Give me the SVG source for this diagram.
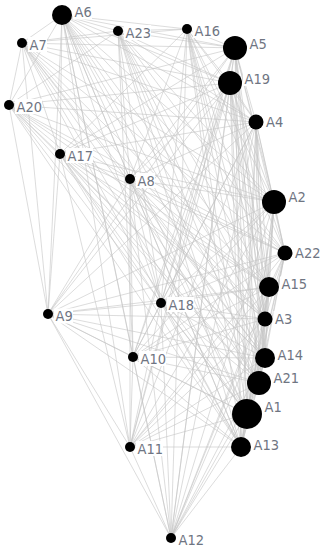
<svg xmlns="http://www.w3.org/2000/svg" width="321" height="550" viewBox="0 0 321 550">
<style>
.e line{stroke:#c4c4c4;stroke-width:0.6;fill:none}
.n{fill:#000}
.b{fill:#fff}
.l{font-family:"DejaVu Sans Condensed","DejaVu Sans",sans-serif;font-stretch:condensed;font-size:14.5px;fill:#6f7582}
</style>
<rect width="321" height="550" fill="#fff"/>
<g id="edges" class="e">
<line x1="62" y1="15" x2="235" y2="48"/><line x1="62" y1="15" x2="230" y2="83"/><line x1="62" y1="15" x2="256" y2="122"/><line x1="62" y1="15" x2="274" y2="202"/><line x1="62" y1="15" x2="285" y2="253"/><line x1="62" y1="15" x2="269" y2="287"/><line x1="62" y1="15" x2="265" y2="319"/><line x1="62" y1="15" x2="265" y2="358"/><line x1="62" y1="15" x2="259" y2="383"/><line x1="62" y1="15" x2="247" y2="414"/><line x1="62" y1="15" x2="241" y2="447"/>
<line x1="235" y1="48" x2="230" y2="83"/><line x1="235" y1="48" x2="256" y2="122"/><line x1="235" y1="48" x2="274" y2="202"/><line x1="235" y1="48" x2="285" y2="253"/><line x1="235" y1="48" x2="269" y2="287"/><line x1="235" y1="48" x2="265" y2="319"/><line x1="235" y1="48" x2="265" y2="358"/><line x1="235" y1="48" x2="259" y2="383"/><line x1="235" y1="48" x2="247" y2="414"/><line x1="235" y1="48" x2="241" y2="447"/>
<line x1="230" y1="83" x2="256" y2="122"/><line x1="230" y1="83" x2="274" y2="202"/><line x1="230" y1="83" x2="285" y2="253"/><line x1="230" y1="83" x2="269" y2="287"/><line x1="230" y1="83" x2="265" y2="319"/><line x1="230" y1="83" x2="265" y2="358"/><line x1="230" y1="83" x2="259" y2="383"/><line x1="230" y1="83" x2="247" y2="414"/><line x1="230" y1="83" x2="241" y2="447"/>
<line x1="256" y1="122" x2="274" y2="202"/><line x1="256" y1="122" x2="285" y2="253"/><line x1="256" y1="122" x2="269" y2="287"/><line x1="256" y1="122" x2="265" y2="319"/><line x1="256" y1="122" x2="265" y2="358"/><line x1="256" y1="122" x2="259" y2="383"/><line x1="256" y1="122" x2="247" y2="414"/><line x1="256" y1="122" x2="241" y2="447"/>
<line x1="274" y1="202" x2="285" y2="253"/><line x1="274" y1="202" x2="269" y2="287"/><line x1="274" y1="202" x2="265" y2="319"/><line x1="274" y1="202" x2="265" y2="358"/><line x1="274" y1="202" x2="259" y2="383"/><line x1="274" y1="202" x2="247" y2="414"/><line x1="274" y1="202" x2="241" y2="447"/>
<line x1="285" y1="253" x2="269" y2="287"/><line x1="285" y1="253" x2="265" y2="319"/><line x1="285" y1="253" x2="265" y2="358"/><line x1="285" y1="253" x2="259" y2="383"/><line x1="285" y1="253" x2="247" y2="414"/><line x1="285" y1="253" x2="241" y2="447"/>
<line x1="269" y1="287" x2="265" y2="319"/><line x1="269" y1="287" x2="265" y2="358"/><line x1="269" y1="287" x2="259" y2="383"/><line x1="269" y1="287" x2="247" y2="414"/><line x1="269" y1="287" x2="241" y2="447"/>
<line x1="265" y1="319" x2="265" y2="358"/><line x1="265" y1="319" x2="259" y2="383"/><line x1="265" y1="319" x2="247" y2="414"/><line x1="265" y1="319" x2="241" y2="447"/>
<line x1="265" y1="358" x2="259" y2="383"/><line x1="265" y1="358" x2="247" y2="414"/><line x1="265" y1="358" x2="241" y2="447"/>
<line x1="259" y1="383" x2="247" y2="414"/><line x1="259" y1="383" x2="241" y2="447"/>
<line x1="247" y1="414" x2="241" y2="447"/>
<line x1="22" y1="43" x2="62" y2="15"/><line x1="22" y1="43" x2="235" y2="48"/><line x1="22" y1="43" x2="230" y2="83"/><line x1="22" y1="43" x2="256" y2="122"/><line x1="22" y1="43" x2="274" y2="202"/><line x1="22" y1="43" x2="285" y2="253"/><line x1="22" y1="43" x2="269" y2="287"/><line x1="22" y1="43" x2="265" y2="319"/><line x1="22" y1="43" x2="265" y2="358"/><line x1="22" y1="43" x2="259" y2="383"/><line x1="22" y1="43" x2="247" y2="414"/><line x1="22" y1="43" x2="241" y2="447"/>
<line x1="9" y1="105" x2="62" y2="15"/><line x1="9" y1="105" x2="235" y2="48"/><line x1="9" y1="105" x2="230" y2="83"/><line x1="9" y1="105" x2="256" y2="122"/><line x1="9" y1="105" x2="274" y2="202"/><line x1="9" y1="105" x2="285" y2="253"/><line x1="9" y1="105" x2="269" y2="287"/><line x1="9" y1="105" x2="265" y2="319"/><line x1="9" y1="105" x2="265" y2="358"/><line x1="9" y1="105" x2="259" y2="383"/><line x1="9" y1="105" x2="247" y2="414"/><line x1="9" y1="105" x2="241" y2="447"/>
<line x1="118" y1="31" x2="62" y2="15"/><line x1="118" y1="31" x2="235" y2="48"/><line x1="118" y1="31" x2="230" y2="83"/><line x1="118" y1="31" x2="256" y2="122"/><line x1="118" y1="31" x2="274" y2="202"/><line x1="118" y1="31" x2="285" y2="253"/><line x1="118" y1="31" x2="269" y2="287"/><line x1="118" y1="31" x2="265" y2="319"/><line x1="118" y1="31" x2="265" y2="358"/><line x1="118" y1="31" x2="259" y2="383"/><line x1="118" y1="31" x2="247" y2="414"/><line x1="118" y1="31" x2="241" y2="447"/>
<line x1="187" y1="29" x2="62" y2="15"/><line x1="187" y1="29" x2="235" y2="48"/><line x1="187" y1="29" x2="230" y2="83"/><line x1="187" y1="29" x2="256" y2="122"/><line x1="187" y1="29" x2="274" y2="202"/><line x1="187" y1="29" x2="285" y2="253"/><line x1="187" y1="29" x2="269" y2="287"/><line x1="187" y1="29" x2="265" y2="319"/><line x1="187" y1="29" x2="265" y2="358"/><line x1="187" y1="29" x2="259" y2="383"/><line x1="187" y1="29" x2="247" y2="414"/><line x1="187" y1="29" x2="241" y2="447"/>
<line x1="60" y1="154" x2="62" y2="15"/><line x1="60" y1="154" x2="235" y2="48"/><line x1="60" y1="154" x2="230" y2="83"/><line x1="60" y1="154" x2="256" y2="122"/><line x1="60" y1="154" x2="274" y2="202"/><line x1="60" y1="154" x2="285" y2="253"/><line x1="60" y1="154" x2="269" y2="287"/><line x1="60" y1="154" x2="265" y2="319"/><line x1="60" y1="154" x2="265" y2="358"/><line x1="60" y1="154" x2="259" y2="383"/><line x1="60" y1="154" x2="247" y2="414"/><line x1="60" y1="154" x2="241" y2="447"/>
<line x1="130" y1="179" x2="62" y2="15"/><line x1="130" y1="179" x2="235" y2="48"/><line x1="130" y1="179" x2="230" y2="83"/><line x1="130" y1="179" x2="256" y2="122"/><line x1="130" y1="179" x2="274" y2="202"/><line x1="130" y1="179" x2="285" y2="253"/><line x1="130" y1="179" x2="269" y2="287"/><line x1="130" y1="179" x2="265" y2="319"/><line x1="130" y1="179" x2="265" y2="358"/><line x1="130" y1="179" x2="259" y2="383"/><line x1="130" y1="179" x2="247" y2="414"/><line x1="130" y1="179" x2="241" y2="447"/>
<line x1="161" y1="303" x2="62" y2="15"/><line x1="161" y1="303" x2="235" y2="48"/><line x1="161" y1="303" x2="230" y2="83"/><line x1="161" y1="303" x2="256" y2="122"/><line x1="161" y1="303" x2="274" y2="202"/><line x1="161" y1="303" x2="285" y2="253"/><line x1="161" y1="303" x2="269" y2="287"/><line x1="161" y1="303" x2="265" y2="319"/><line x1="161" y1="303" x2="265" y2="358"/><line x1="161" y1="303" x2="259" y2="383"/><line x1="161" y1="303" x2="247" y2="414"/><line x1="161" y1="303" x2="241" y2="447"/>
<line x1="48" y1="314" x2="62" y2="15"/><line x1="48" y1="314" x2="235" y2="48"/><line x1="48" y1="314" x2="230" y2="83"/><line x1="48" y1="314" x2="256" y2="122"/><line x1="48" y1="314" x2="274" y2="202"/><line x1="48" y1="314" x2="285" y2="253"/><line x1="48" y1="314" x2="269" y2="287"/><line x1="48" y1="314" x2="265" y2="319"/><line x1="48" y1="314" x2="265" y2="358"/><line x1="48" y1="314" x2="259" y2="383"/><line x1="48" y1="314" x2="247" y2="414"/><line x1="48" y1="314" x2="241" y2="447"/>
<line x1="133" y1="357" x2="62" y2="15"/><line x1="133" y1="357" x2="235" y2="48"/><line x1="133" y1="357" x2="230" y2="83"/><line x1="133" y1="357" x2="256" y2="122"/><line x1="133" y1="357" x2="274" y2="202"/><line x1="133" y1="357" x2="285" y2="253"/><line x1="133" y1="357" x2="269" y2="287"/><line x1="133" y1="357" x2="265" y2="319"/><line x1="133" y1="357" x2="265" y2="358"/><line x1="133" y1="357" x2="259" y2="383"/><line x1="133" y1="357" x2="247" y2="414"/><line x1="133" y1="357" x2="241" y2="447"/>
<line x1="130" y1="447" x2="62" y2="15"/><line x1="130" y1="447" x2="235" y2="48"/><line x1="130" y1="447" x2="230" y2="83"/><line x1="130" y1="447" x2="256" y2="122"/><line x1="130" y1="447" x2="274" y2="202"/><line x1="130" y1="447" x2="285" y2="253"/><line x1="130" y1="447" x2="269" y2="287"/><line x1="130" y1="447" x2="265" y2="319"/><line x1="130" y1="447" x2="265" y2="358"/><line x1="130" y1="447" x2="259" y2="383"/><line x1="130" y1="447" x2="247" y2="414"/><line x1="130" y1="447" x2="241" y2="447"/>
<line x1="171" y1="538" x2="62" y2="15"/><line x1="171" y1="538" x2="235" y2="48"/><line x1="171" y1="538" x2="230" y2="83"/><line x1="171" y1="538" x2="256" y2="122"/><line x1="171" y1="538" x2="274" y2="202"/><line x1="171" y1="538" x2="285" y2="253"/><line x1="171" y1="538" x2="269" y2="287"/><line x1="171" y1="538" x2="265" y2="319"/><line x1="171" y1="538" x2="265" y2="358"/><line x1="171" y1="538" x2="259" y2="383"/><line x1="171" y1="538" x2="247" y2="414"/><line x1="171" y1="538" x2="241" y2="447"/>
<line x1="171" y1="538" x2="130" y2="447"/><line x1="171" y1="538" x2="48" y2="314"/><line x1="171" y1="538" x2="133" y2="357"/><line x1="171" y1="538" x2="130" y2="179"/><line x1="171" y1="538" x2="161" y2="303"/><line x1="171" y1="538" x2="187" y2="29"/>
<line x1="48" y1="314" x2="133" y2="357"/><line x1="48" y1="314" x2="9" y2="105"/><line x1="48" y1="314" x2="22" y2="43"/><line x1="48" y1="314" x2="60" y2="154"/><line x1="48" y1="314" x2="161" y2="303"/><line x1="48" y1="314" x2="130" y2="447"/><line x1="48" y1="314" x2="130" y2="179"/>
<line x1="133" y1="357" x2="130" y2="447"/><line x1="133" y1="357" x2="130" y2="179"/><line x1="133" y1="357" x2="161" y2="303"/><line x1="133" y1="357" x2="118" y2="31"/>
<line x1="130" y1="447" x2="130" y2="179"/><line x1="130" y1="447" x2="161" y2="303"/><line x1="130" y1="447" x2="60" y2="154"/>
<line x1="22" y1="43" x2="9" y2="105"/><line x1="22" y1="43" x2="118" y2="31"/><line x1="22" y1="43" x2="187" y2="29"/><line x1="22" y1="43" x2="60" y2="154"/><line x1="22" y1="43" x2="130" y2="179"/>
<line x1="9" y1="105" x2="60" y2="154"/><line x1="9" y1="105" x2="130" y2="179"/><line x1="9" y1="105" x2="118" y2="31"/>
<line x1="118" y1="31" x2="187" y2="29"/><line x1="118" y1="31" x2="130" y2="179"/><line x1="118" y1="31" x2="161" y2="303"/>
<line x1="187" y1="29" x2="130" y2="179"/><line x1="187" y1="29" x2="60" y2="154"/><line x1="187" y1="29" x2="161" y2="303"/>
<line x1="60" y1="154" x2="130" y2="179"/><line x1="60" y1="154" x2="161" y2="303"/><line x1="130" y1="179" x2="161" y2="303"/>
</g>
<g id="A6"><circle class="n" cx="62" cy="15" r="10"/><rect class="b" x="73" y="4.5" width="19" height="15"/><text class="l" x="74.5" y="17">A6</text></g>
<g id="A23"><circle class="n" cx="118" cy="31" r="5"/><rect class="b" x="124" y="25" width="27" height="15"/><text class="l" x="125.5" y="37.5">A23</text></g>
<g id="A16"><circle class="n" cx="187" cy="29" r="5"/><rect class="b" x="193" y="23" width="27" height="15"/><text class="l" x="194.5" y="35.5">A16</text></g>
<g id="A5"><circle class="n" cx="235" cy="48" r="12"/><rect class="b" x="248" y="36" width="19" height="15"/><text class="l" x="249.5" y="48.5">A5</text></g>
<g id="A7"><circle class="n" cx="22" cy="43" r="5"/><rect class="b" x="28" y="37" width="19" height="15"/><text class="l" x="29.5" y="49.5">A7</text></g>
<g id="A19"><circle class="n" cx="230" cy="83" r="12"/><rect class="b" x="243" y="71" width="27" height="15"/><text class="l" x="244.5" y="83.5">A19</text></g>
<g id="A20"><circle class="n" cx="9" cy="105" r="5"/><rect class="b" x="15" y="99" width="27" height="15"/><text class="l" x="16.5" y="111.5">A20</text></g>
<g id="A4"><circle class="n" cx="256" cy="122" r="7.5"/><rect class="b" x="264.5" y="114" width="19" height="15"/><text class="l" x="266" y="126.5">A4</text></g>
<g id="A17"><circle class="n" cx="60" cy="154" r="5"/><rect class="b" x="66" y="148" width="27" height="15"/><text class="l" x="67.5" y="160.5">A17</text></g>
<g id="A8"><circle class="n" cx="130" cy="179" r="5"/><rect class="b" x="136" y="173" width="19" height="15"/><text class="l" x="137.5" y="185.5">A8</text></g>
<g id="A2"><circle class="n" cx="274" cy="202" r="12"/><rect class="b" x="287" y="189.5" width="19" height="15"/><text class="l" x="288.5" y="202">A2</text></g>
<g id="A22"><circle class="n" cx="285" cy="253" r="7.5"/><rect class="b" x="293.5" y="245" width="27" height="15"/><text class="l" x="295" y="257.5">A22</text></g>
<g id="A15"><circle class="n" cx="269" cy="287" r="10"/><rect class="b" x="280" y="276.5" width="27" height="15"/><text class="l" x="281.5" y="289">A15</text></g>
<g id="A18"><circle class="n" cx="161" cy="303" r="5"/><rect class="b" x="167" y="297" width="27" height="15"/><text class="l" x="168.5" y="309.5">A18</text></g>
<g id="A9"><circle class="n" cx="48" cy="314" r="5"/><rect class="b" x="54" y="308.5" width="19" height="15"/><text class="l" x="55.5" y="321">A9</text></g>
<g id="A3"><circle class="n" cx="265" cy="319" r="7.5"/><rect class="b" x="273.5" y="311" width="19" height="15"/><text class="l" x="275" y="323.5">A3</text></g>
<g id="A10"><circle class="n" cx="133" cy="357" r="5"/><rect class="b" x="139" y="351" width="27" height="15"/><text class="l" x="140.5" y="363.5">A10</text></g>
<g id="A14"><circle class="n" cx="265" cy="358" r="10"/><rect class="b" x="276" y="347.5" width="27" height="15"/><text class="l" x="277.5" y="360">A14</text></g>
<g id="A21"><circle class="n" cx="259" cy="383" r="12"/><rect class="b" x="272" y="370.5" width="27" height="15"/><text class="l" x="273.5" y="383">A21</text></g>
<g id="A1"><circle class="n" cx="247" cy="414" r="15"/><rect class="b" x="263" y="399" width="19" height="15"/><text class="l" x="264.5" y="411.5">A1</text></g>
<g id="A13"><circle class="n" cx="241" cy="447" r="10"/><rect class="b" x="252" y="437" width="27" height="15"/><text class="l" x="253.5" y="449.5">A13</text></g>
<g id="A11"><circle class="n" cx="130" cy="447" r="5"/><rect class="b" x="136" y="441" width="27" height="15"/><text class="l" x="137.5" y="453.5">A11</text></g>
<g id="A12"><circle class="n" cx="171" cy="538" r="5"/><rect class="b" x="177" y="532" width="27" height="15"/><text class="l" x="178.5" y="544.5">A12</text></g>
</svg>
